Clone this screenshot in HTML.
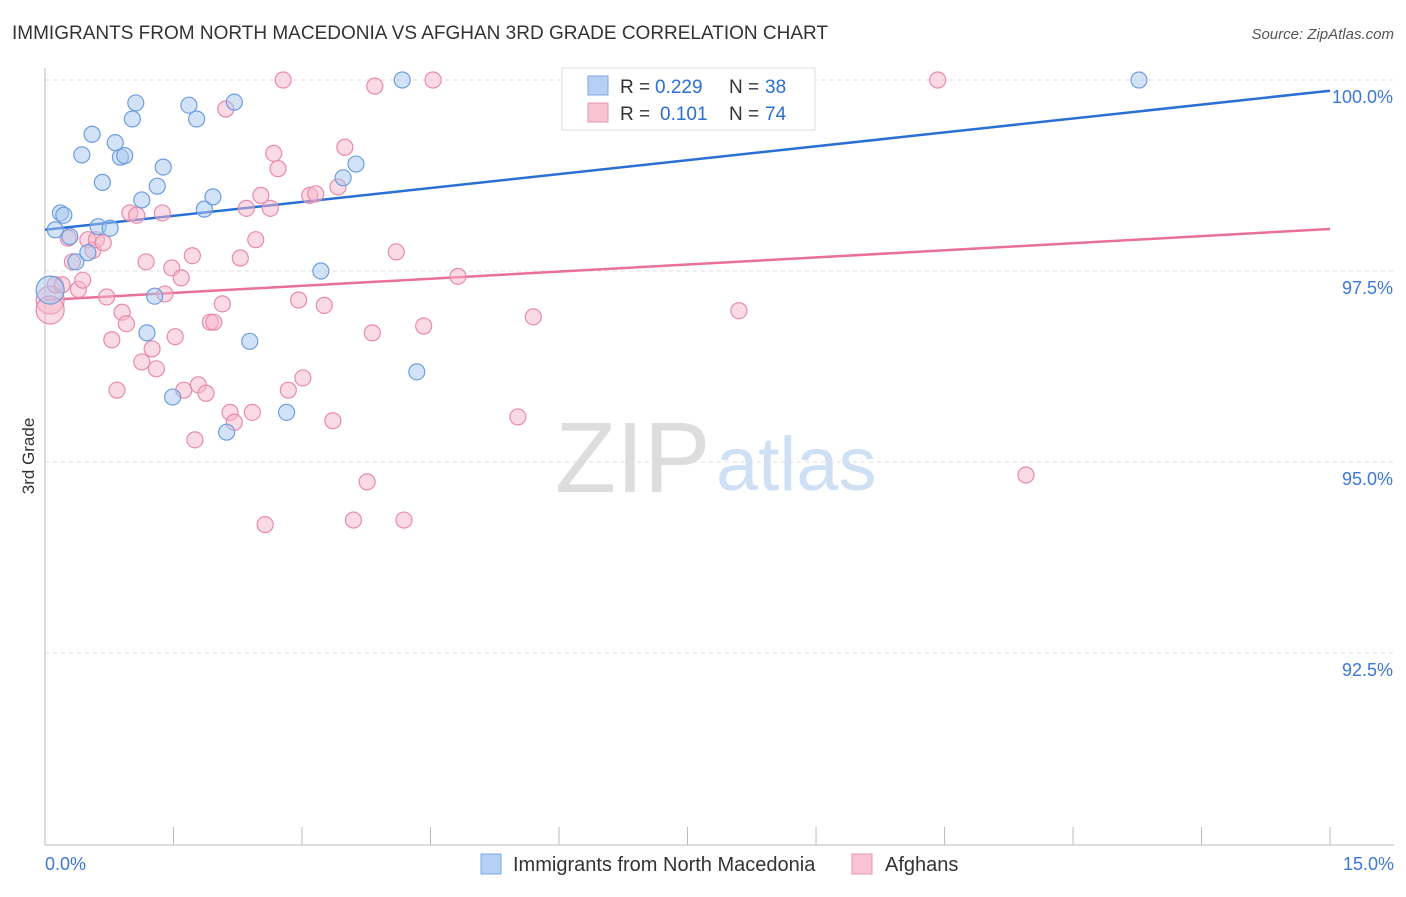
<!DOCTYPE html>
<html><head><meta charset="utf-8"><style>
body{margin:0;background:#fff;font-family:"Liberation Sans",sans-serif;}
svg text{font-family:"Liberation Sans",sans-serif;}
</style></head><body>
<svg id="chart" width="1406" height="892">
<text x="12" y="39" font-size="19" fill="#333">IMMIGRANTS FROM NORTH MACEDONIA VS AFGHAN 3RD GRADE CORRELATION CHART</text>
<text x="1394" y="39" font-size="15" fill="#555" text-anchor="end" font-style="italic">Source: ZipAtlas.com</text>
<text x="34" y="456" font-size="17" fill="#333" transform="rotate(-90 34 456)" text-anchor="middle">3rd Grade</text>
<g>
<text x="555" y="492" font-size="100" fill="#ddd" font-family="Liberation Serif, serif">ZIP</text>
<text x="716" y="490" font-size="76" fill="#cfe0f5">atlas</text>
</g>
<g id="grid"></g><g id="axes"></g><g id="lines"></g><g id="pts"></g>
<g>
<rect x="562" y="68" width="253" height="62" fill="#fff" stroke="#ddd"/>
<rect x="588" y="76" width="20" height="19" fill="#b5d0f3" stroke="#7aa6e3"/>
<text x="620" y="93" font-size="19" fill="#333">R =</text>
<text x="655" y="93" font-size="19" fill="#2a6fd6">0.229</text>
<text x="729" y="93" font-size="19" fill="#333">N =</text>
<text x="765" y="93" font-size="19" fill="#2a6fd6">38</text>
<rect x="588" y="103" width="20" height="19" fill="#f8c3d3" stroke="#ea93b0"/>
<text x="620" y="120" font-size="19" fill="#333">R =</text>
<text x="660" y="120" font-size="19" fill="#2a6fd6">0.101</text>
<text x="729" y="120" font-size="19" fill="#333">N =</text>
<text x="765" y="120" font-size="19" fill="#2a6fd6">74</text>
</g>
<g>
<rect x="481" y="854" width="20" height="20" fill="#b5d0f3" stroke="#7aa6e3"/>
<text x="513" y="871" font-size="20" fill="#333">Immigrants from North Macedonia</text>
<rect x="852" y="854" width="20" height="20" fill="#f8c3d3" stroke="#ea93b0"/>
<text x="885" y="871" font-size="20" fill="#333">Afghans</text>
</g>
</svg>
<script>
const blueX=[0.12,0.18,0.22,0.29,0.36,0.43,0.55,0.50,0.62,0.67,0.76,0.82,0.88,0.93,1.02,1.06,1.13,1.19,1.28,1.31,1.38,1.49,1.68,1.77,1.86,1.96,2.12,2.21,2.39,2.82,3.22,3.48,3.63,4.17,4.34,8.08,12.77,0.06];
const blueY=[98.04,98.26,98.23,97.95,97.62,99.02,99.29,97.74,98.08,98.66,98.06,99.18,98.99,99.01,99.49,99.70,98.43,96.69,97.17,98.61,98.86,95.85,99.67,99.49,98.31,98.47,95.39,99.71,96.58,95.65,97.50,98.72,98.90,100,96.18,100,100,97.25];
const pinkX=[0.06,0.06,0.12,0.20,0.27,0.32,0.39,0.44,0.50,0.56,0.60,0.68,0.72,0.78,0.84,0.90,0.95,0.99,1.07,1.13,1.18,1.25,1.30,1.37,1.40,1.48,1.52,1.59,1.62,1.72,1.75,1.79,1.88,1.93,1.97,2.07,2.11,2.16,2.21,2.28,2.35,2.42,2.46,2.52,2.57,2.63,2.67,2.72,2.78,2.84,2.96,3.01,3.09,3.16,3.26,3.36,3.42,3.50,3.60,3.76,3.82,3.85,4.10,4.19,4.42,4.53,4.82,5.52,5.70,6.88,8.10,8.78,10.42,11.45];
const pinkY=[97.12,96.99,97.32,97.32,97.93,97.62,97.26,97.38,97.91,97.77,97.91,97.87,97.16,96.60,95.94,96.96,96.81,98.26,98.23,96.31,97.62,96.48,96.22,98.26,97.20,97.54,96.64,97.41,95.94,97.70,95.29,96.01,95.90,96.83,96.83,97.07,99.62,95.65,95.52,97.67,98.32,95.65,97.91,98.49,94.18,98.32,99.04,98.84,100,95.94,97.12,96.10,98.49,98.51,97.05,95.54,98.60,99.12,94.24,94.74,96.69,99.92,97.75,94.24,96.78,100,97.43,95.59,96.90,100,96.98,100,100,94.83];
const blueBig=[37]; const pinkBig=[0,1];
const blueTrend=[98.04,99.86];
const pinkTrend=[97.12,98.05];
const yTicks=[100,97.5,95,92.5];
const yTickLabels=["100.0%","97.5%","95.0%","92.5%"];
const xTicks=[0,1.5,3,4.5,6,7.5,9,10.5,12,13.5,15];
const xLabels=["0.0%","15.0%"];

const NS="http://www.w3.org/2000/svg";
const sx=v=>45+v*85.67, sy=v=>80+(100-v)*76.4;
function mk(p,tag,a){const e=document.createElementNS(NS,tag);for(const k in a)e.setAttribute(k,a[k]);document.getElementById(p).appendChild(e);return e;}
yTicks.forEach((t,i)=>{
 const l=mk('grid','line',{x1:45,x2:1394,y1:sy(t),y2:sy(t),stroke:'#ddd','stroke-dasharray':'4 4'});
 
 
 const tx=mk('grid','text',{x:1393,y:sy(t)+23,'text-anchor':'end','font-size':18,fill:'#3b78d8'});
 tx.textContent=yTickLabels[i];
 
 
});
const ax=mk('axes','line',{x1:45,x2:45,y1:68,y2:845,stroke:'#bbb'});


const bx=mk('axes','line',{x1:45,x2:1394,y1:845,y2:845,stroke:'#bbb'});


xTicks.forEach(t=>{
 const l=mk('axes','line',{x1:sx(t),x2:sx(t),y1:827,y2:845,stroke:'#bbb'});
 
 
});
const xl0=mk('axes','text',{x:45,y:870,'font-size':18,fill:'#3b78d8'});xl0.textContent=xLabels[0];


const xl1=mk('axes','text',{x:1394,y:870,'font-size':18,fill:'#3b78d8','text-anchor':'end'});xl1.textContent=xLabels[1];


function pts(X,Y,big,fill,stroke,name){
 X.forEach((x,i)=>{
  const r=big.includes(i)?14:8;
  const c=mk('pts','circle',{cx:sx(x),cy:sy(Y[i]),r:r,fill:fill,'fill-opacity':0.5,stroke:stroke,'stroke-width':1.2});
  
  
 });
}
pts(pinkX,pinkY,pinkBig,'#f6b6ca','#e98aaa','afghans-point');
pts(blueX,blueY,blueBig,'#a8c8f0','#6d9de0','macedonia-point');
const bl=mk('lines','line',{x1:sx(0),x2:sx(15),y1:sy(blueTrend[0]),y2:sy(blueTrend[1]),stroke:'#2a6fd6','stroke-width':2.5});


const pl=mk('lines','line',{x1:sx(0),x2:sx(15),y1:sy(pinkTrend[0]),y2:sy(pinkTrend[1]),stroke:'#e8709a','stroke-width':2.5});


</script>
</body></html>
